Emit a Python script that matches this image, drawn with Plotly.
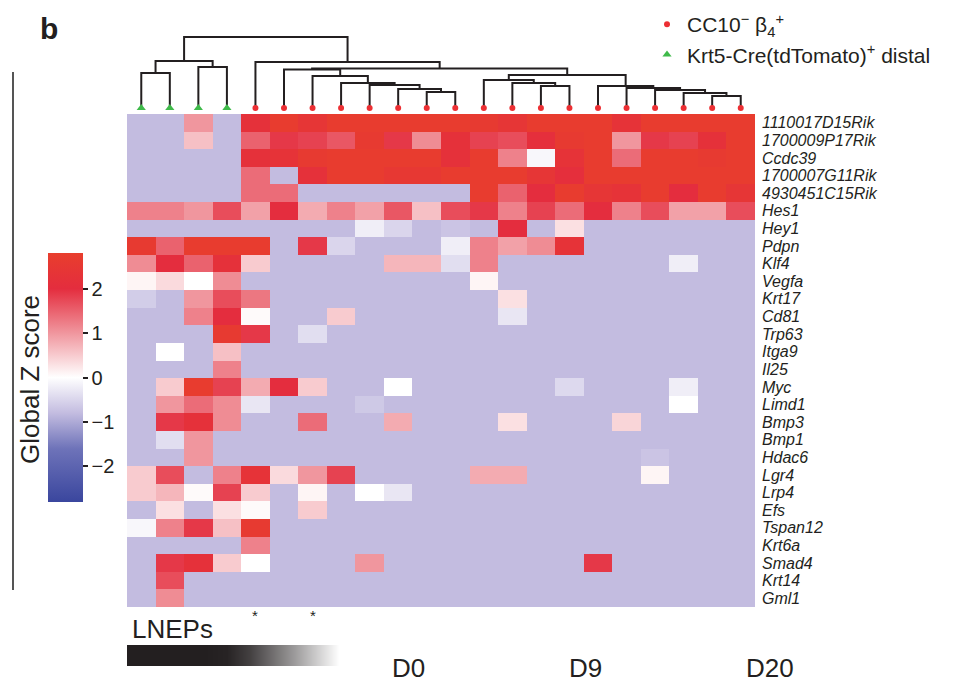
import plotly.graph_objects as go

# ---------------- data ----------------
genes = ["1110017D15Rik", "1700009P17Rik", "Ccdc39", "1700007G11Rik", "4930451C15Rik",
         "Hes1", "Hey1", "Pdpn", "Klf4", "Vegfa", "Krt17", "Cd81", "Trp63", "Itga9",
         "Il25", "Myc", "Limd1", "Bmp3", "Bmp1", "Hdac6", "Lgr4", "Lrp4", "Efs",
         "Tspan12", "Krt6a", "Smad4", "Krt14", "Gml1"]

sample_group = ["Krt5", "Krt5", "Krt5", "Krt5",
                "CC10", "CC10", "CC10", "CC10", "CC10", "CC10", "CC10", "CC10", "CC10",
                "CC10", "CC10", "CC10", "CC10", "CC10", "CC10", "CC10", "CC10", "CC10"]

zscore = [
    [-0.8, -0.8, 1.0, -0.8, 2.2, 2.7, 2.4, 2.7, 2.7, 2.7, 2.7, 2.7, 2.6, 2.4, 2.7, 2.7, 2.7, 2.3, 2.7, 2.7, 2.7, 2.7],
    [-0.8, -0.8, 0.6, -0.8, 1.5, 1.9, 1.8, 1.6, 2.6, 1.9, 1.1, 2.2, 1.8, 1.7, 2.1, 2.6, 2.7, 1.0, 1.9, 1.8, 2.2, 2.7],
    [-0.8, -0.8, -0.8, -0.8, 2.2, 2.3, 2.6, 2.7, 2.7, 2.7, 2.7, 2.2, 2.7, 1.2, -0.1, 2.3, 2.7, 1.4, 2.7, 2.7, 2.6, 2.7],
    [-0.8, -0.8, -0.8, -0.8, 1.4, -0.8, 2.2, 2.7, 2.7, 2.5, 2.5, 2.7, 2.7, 2.7, 2.4, 2.1, 2.7, 2.7, 2.7, 2.7, 2.7, 2.7],
    [-0.8, -0.8, -0.8, -0.8, 1.4, 1.4, -0.8, -0.8, -0.8, -0.8, -0.8, -0.8, 2.7, 1.5, 2.0, 2.7, 2.4, 2.3, 2.7, 2.0, 2.7, 2.4],
    [1.2, 1.2, 1.0, 1.7, 0.9, 2.0, 0.8, 1.2, 0.9, 1.6, 0.6, 1.7, 1.9, 1.2, 1.8, 1.4, 2.0, 1.2, 1.7, 0.9, 0.9, 1.7],
    [-0.8, -0.8, -0.8, -0.8, -0.8, -0.8, -0.8, -0.8, -0.2, -0.5, -0.8, -0.7, -0.8, 2.0, -0.8, 0.3, -0.8, -0.8, -0.8, -0.8, -0.8, -0.8],
    [2.6, 1.5, 2.7, 2.7, 2.7, -0.8, 1.9, -0.5, -0.8, -0.8, -0.8, -0.2, 1.2, 0.9, 1.1, 2.3, -0.8, -0.8, -0.8, -0.8, -0.8, -0.8],
    [1.1, 2.0, 1.5, 2.2, 0.5, -0.8, -0.8, -0.8, -0.8, 0.7, 0.7, -0.4, 1.2, -0.8, -0.8, -0.8, -0.8, -0.8, -0.8, -0.2, -0.8, -0.8],
    [0.1, 0.35, 0.0, 1.1, -0.8, -0.8, -0.8, -0.8, -0.8, -0.8, -0.8, -0.8, 0.1, -0.8, -0.8, -0.8, -0.8, -0.8, -0.8, -0.8, -0.8, -0.8],
    [-0.6, -0.8, 1.0, 1.7, 1.3, -0.8, -0.8, -0.8, -0.8, -0.8, -0.8, -0.8, -0.8, 0.3, -0.8, -0.8, -0.8, -0.8, -0.8, -0.8, -0.8, -0.8],
    [-0.8, -0.8, 1.2, 2.0, 0.05, -0.8, -0.8, 0.5, -0.8, -0.8, -0.8, -0.8, -0.8, -0.3, -0.8, -0.8, -0.8, -0.8, -0.8, -0.8, -0.8, -0.8],
    [-0.8, -0.8, -0.8, 2.6, 1.9, -0.8, -0.4, -0.8, -0.8, -0.8, -0.8, -0.8, -0.8, -0.8, -0.8, -0.8, -0.8, -0.8, -0.8, -0.8, -0.8, -0.8],
    [-0.8, 0.0, -0.8, 0.6, -0.8, -0.8, -0.8, -0.8, -0.8, -0.8, -0.8, -0.8, -0.8, -0.8, -0.8, -0.8, -0.8, -0.8, -0.8, -0.8, -0.8, -0.8],
    [-0.8, -0.8, -0.8, 1.2, -0.8, -0.8, -0.8, -0.8, -0.8, -0.8, -0.8, -0.8, -0.8, -0.8, -0.8, -0.8, -0.8, -0.8, -0.8, -0.8, -0.8, -0.8],
    [-0.8, 0.5, 2.7, 1.8, 0.8, 2.0, 0.5, -0.8, -0.8, 0.0, -0.8, -0.8, -0.8, -0.8, -0.8, -0.45, -0.8, -0.8, -0.8, -0.2, -0.8, -0.8],
    [-0.8, 1.0, 1.4, 1.1, -0.3, -0.8, -0.8, -0.8, -0.65, -0.8, -0.8, -0.8, -0.8, -0.8, -0.8, -0.8, -0.8, -0.8, -0.8, 0.0, -0.8, -0.8],
    [-0.8, 1.9, 2.2, 1.1, -0.8, -0.8, 1.4, -0.8, -0.8, 0.8, -0.8, -0.8, -0.8, 0.3, -0.8, -0.8, -0.8, 0.4, -0.8, -0.8, -0.8, -0.8],
    [-0.8, -0.4, 1.0, -0.8, -0.8, -0.8, -0.8, -0.8, -0.8, -0.8, -0.8, -0.8, -0.8, -0.8, -0.8, -0.8, -0.8, -0.8, -0.8, -0.8, -0.8, -0.8],
    [-0.8, -0.8, 1.0, -0.8, -0.8, -0.8, -0.8, -0.8, -0.8, -0.8, -0.8, -0.8, -0.8, -0.8, -0.8, -0.8, -0.8, -0.8, -0.7, -0.8, -0.8, -0.8],
    [0.5, 1.7, -0.8, 1.2, 2.3, 0.35, 1.0, 1.8, -0.8, -0.8, -0.8, -0.8, 0.8, 0.8, -0.8, -0.8, -0.8, -0.8, 0.1, -0.8, -0.8, -0.8],
    [0.5, 0.7, 0.05, 1.8, 0.5, -0.8, 0.1, -0.8, 0.0, -0.3, -0.8, -0.8, -0.8, -0.8, -0.8, -0.8, -0.8, -0.8, -0.8, -0.8, -0.8, -0.8],
    [-0.8, 0.3, -0.8, 0.3, 0.05, -0.8, 0.5, -0.8, -0.8, -0.8, -0.8, -0.8, -0.8, -0.8, -0.8, -0.8, -0.8, -0.8, -0.8, -0.8, -0.8, -0.8],
    [-0.1, 1.2, 1.9, 0.6, 2.6, -0.8, -0.8, -0.8, -0.8, -0.8, -0.8, -0.8, -0.8, -0.8, -0.8, -0.8, -0.8, -0.8, -0.8, -0.8, -0.8, -0.8],
    [-0.8, -0.8, -0.8, -0.8, 1.2, -0.8, -0.8, -0.8, -0.8, -0.8, -0.8, -0.8, -0.8, -0.8, -0.8, -0.8, -0.8, -0.8, -0.8, -0.8, -0.8, -0.8],
    [-0.8, 1.9, 2.2, 0.5, 0.0, -0.8, -0.8, -0.8, 1.0, -0.8, -0.8, -0.8, -0.8, -0.8, -0.8, -0.8, 1.9, -0.8, -0.8, -0.8, -0.8, -0.8],
    [-0.8, 1.7, -0.8, -0.8, -0.8, -0.8, -0.8, -0.8, -0.8, -0.8, -0.8, -0.8, -0.8, -0.8, -0.8, -0.8, -0.8, -0.8, -0.8, -0.8, -0.8, -0.8],
    [-0.8, 1.1, -0.8, -0.8, -0.8, -0.8, -0.8, -0.8, -0.8, -0.8, -0.8, -0.8, -0.8, -0.8, -0.8, -0.8, -0.8, -0.8, -0.8, -0.8, -0.8, -0.8],
]

# hierarchical clustering of samples: (left child, right child, merge height)
# leaves are 0..21, new nodes numbered from 22 in order
merges = [
    (0, 1, 35), (2, 3, 41), (22, 23, 47),
    (10, 11, 16), (9, 25, 19), (8, 26, 23), (7, 27, 25), (6, 28, 32), (5, 29, 38.5),
    (14, 15, 22), (13, 31, 25), (12, 32, 28),
    (20, 21, 12), (19, 34, 15), (18, 35, 18), (17, 36, 20), (16, 37, 22),
    (33, 38, 33), (30, 39, 39.5), (4, 40, 46), (24, 41, 71),
]

lnep_star_cols = [4, 6]
lnep_shade = [0.0, 0.0, 0.0, 0.0, 0.02, 0.15, 0.35, 0.55, 0.78, 1.0]
timepoints = ["D0", "D9", "D20"]
cbar_ticks = [-2, -1, 0, 1, 2]
cbar_ticktext = ["\u22122", "\u22121", "0", "1", "2"]

group_names = {
    "CC10": "CC10<sup>\u2212</sup> \u03b2<sub>4</sub><sup>+</sup>",
    "Krt5": "Krt5-Cre(tdTomato)<sup>+</sup> distal",
}

# ---------------- styles / layout ----------------
PAGE_OFF = 8                      # default page margin of the html body
W, H = 955 - PAGE_OFF, 684 - PAGE_OFF
FONT = "Liberation Sans, Arial, Helvetica, sans-serif"
INK = "#231f20"


def fx(px):
    return (px - PAGE_OFF) / W


def fy(py):
    return 1 - (py - PAGE_OFF) / H


zmin, zmax = -2.8, 2.8
scale_stops = [(-2.8, "rgb(58,70,158)"), (-1.6, "rgb(110,115,185)"), (-0.8, "rgb(195,188,224)"),
               (0.0, "rgb(255,255,255)"), (1.0, "rgb(240,150,158)"), (2.0, "rgb(228,45,62)"),
               (2.8, "rgb(232,62,45)")]
colorscale = [[(z - zmin) / (zmax - zmin), c] for z, c in scale_stops]

group_style = {
    "CC10": dict(symbol="circle", size=6, color="#ec2f33"),
    "Krt5": dict(symbol="triangle-up", size=8, color="#3fba4a"),
}

fig = go.Figure()

# heatmap
ncol = len(sample_group)
fig.add_trace(go.Heatmap(z=zscore, x=list(range(ncol)), y=genes, coloraxis="coloraxis",
                         xaxis="x", yaxis="y", hoverinfo="skip"))

# dendrogram
pos = {i: float(i) for i in range(ncol)}
hgt = {i: 0.0 for i in range(ncol)}
dx, dy = [], []
for k, (a, b, h) in enumerate(merges):
    nid = ncol + k
    dx += [pos[a], pos[a], pos[b], pos[b], None]
    dy += [hgt[a], h, h, hgt[b], None]
    pos[nid] = (pos[a] + pos[b]) / 2
    hgt[nid] = h
fig.add_trace(go.Scatter(x=dx, y=dy, mode="lines", line=dict(color=INK, width=2),
                         xaxis="x2", yaxis="y2", showlegend=False, hoverinfo="skip",
                         cliponaxis=False))

# leaf markers (also the legend)
for g in ["CC10", "Krt5"]:
    idx = [i for i, s in enumerate(sample_group) if s == g]
    fig.add_trace(go.Scatter(x=idx, y=[0] * len(idx), mode="markers",
                             marker=dict(**group_style[g], line=dict(width=0)),
                             name=group_names[g], xaxis="x2", yaxis="y2",
                             cliponaxis=False, hoverinfo="skip"))

# LNEP gradient bar
fig.add_trace(go.Heatmap(z=[lnep_shade], x=list(range(len(lnep_shade))), y=[0],
                         colorscale=[[0, INK], [1, "#ffffff"]], zmin=0, zmax=1,
                         showscale=False, zsmooth="best", xaxis="x3", yaxis="y3",
                         hoverinfo="skip"))


def label(text, px, py, size, **kw):
    d = dict(text=text, x=fx(px), y=fy(py), xref="paper", yref="paper", showarrow=False,
             xanchor="center", yanchor="middle", font=dict(size=size, color=INK))
    d.update(kw)
    return d


annotations = [
    label("<b>b</b>", 49, 28, 30),
    label("Global Z score", 30, 380, 26, textangle=-90),
    label("LNEPs", 130, 629, 26, xanchor="left"),
]
for c in lnep_star_cols:
    annotations.append(dict(text="*", x=c, y=fy(615), xref="x", yref="paper",
                            xanchor="center", yanchor="middle",
                            showarrow=False, font=dict(size=15, color=INK)))
tp_px = [408, 585, 770]
for t, p in zip(timepoints, tp_px):
    annotations.append(label(t, p, 668, 26))

fig.update_layout(
    width=W, height=H,
    margin=dict(l=0, r=0, t=0, b=0, autoexpand=False),
    paper_bgcolor="white", plot_bgcolor="white",
    font=dict(family=FONT, color=INK),
    coloraxis=dict(
        colorscale=colorscale, cmin=zmin, cmax=zmax,
        colorbar=dict(x=fx(48), xanchor="left", xpad=0, y=fy(377.5), yanchor="middle",
                      ypad=0, len=249, lenmode="pixels", thickness=35,
                      thicknessmode="pixels", outlinewidth=0, ticks="outside", ticklen=5,
                      tickwidth=1.5, tickcolor=INK, tickvals=cbar_ticks,
                      ticktext=cbar_ticktext, tickfont=dict(size=20, color=INK)),
    ),
    xaxis=dict(domain=[fx(127), fx(755)], range=[-0.5, ncol - 0.5], visible=False,
               anchor="y"),
    yaxis=dict(domain=[fy(607), fy(114)], side="right", autorange="reversed",
               type="category", tickmode="array", tickvals=genes, ticktext=genes,
               showgrid=False, zeroline=False, ticks="",
               ticklabelstandoff=6, automargin=False, anchor="x",
               tickfont=dict(size=16, style="italic", color=INK)),
    xaxis2=dict(domain=[fx(127), fx(755)], matches="x", visible=False, anchor="y2"),
    yaxis2=dict(domain=[fy(108), fy(30)], range=[0, 78], visible=False, anchor="x2"),
    xaxis3=dict(domain=[fx(127), fx(350)], range=[-0.5, len(lnep_shade) - 0.5],
                visible=False, anchor="y3"),
    yaxis3=dict(domain=[fy(666), fy(645)], range=[-0.5, 0.5], visible=False, anchor="x3"),
    legend=dict(x=fx(647), y=1 + 4 / H, xanchor="left", yanchor="top",
                bgcolor="rgba(0,0,0,0)",
                font=dict(size=21, color=INK), itemsizing="trace", tracegroupgap=0),
    annotations=annotations,
    shapes=[dict(type="line", xref="paper", yref="paper", x0=fx(13), x1=fx(13),
                 y0=fy(72), y1=fy(590), line=dict(color="#555555", width=2))],
)

fig.write_html("out.html")
